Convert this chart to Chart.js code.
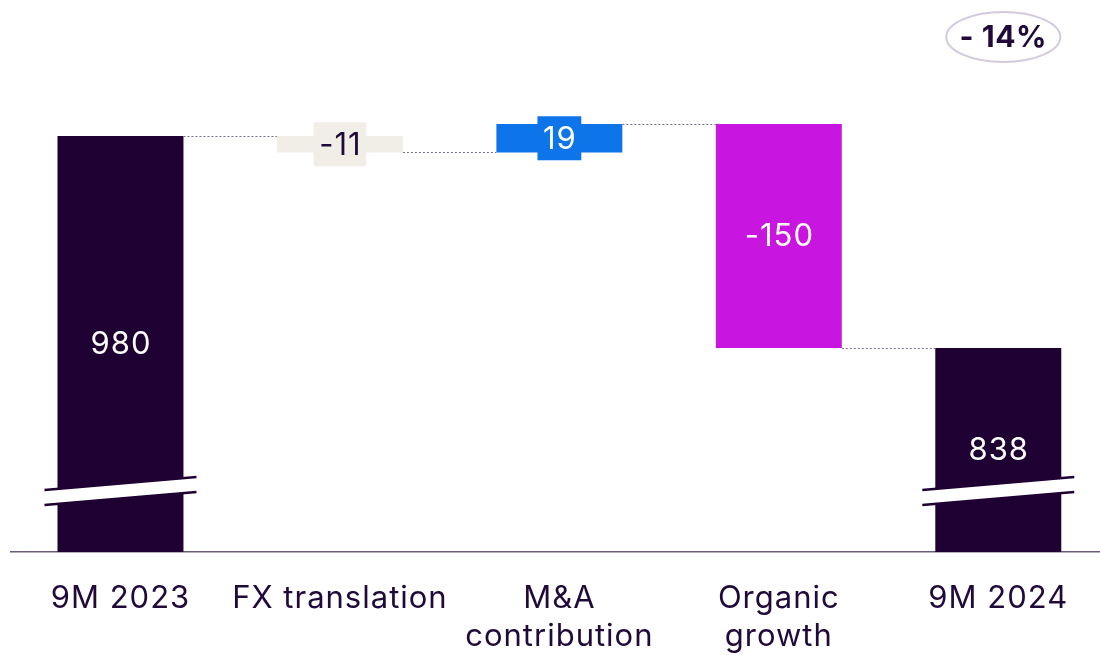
<!DOCTYPE html>
<html>
<head>
<meta charset="utf-8">
<script src="https://cdn.jsdelivr.net/npm/chart.js@4.4.1/dist/chart.umd.min.js"></script>
<style>
  html, body { margin: 0; padding: 0; background: #ffffff; overflow: hidden; }
  #wrap { width: 1108px; height: 655px; }
</style>
</head>
<body>
<div id="wrap"><canvas id="c" width="1108" height="655"></canvas></div>
<script>
// ---- data ----
const categories = [['9M 2023'], ['FX translation'], ['M&A', 'contribution'], ['Organic', 'growth'], ['9M 2024']];
const values = [980, -11, 19, -150, 838];
const isTotal = [true, false, false, false, true];
const barColors = ['#1f0033', '#f1ede7', '#0e74ea', '#c816e0', '#1f0033'];
const labelColors = ['#ffffff', '#1f0a3a', '#ffffff', '#ffffff', '#ffffff'];
const badgeText = '- 14%';
const axisMin = 701.4;
const axisMax = 1071.1;

// floating ranges built from the values
const ranges = [];
const levels = [];
let running = 0;
values.forEach((v, i) => {
  if (isTotal[i]) { ranges.push([axisMin, v]); running = v; }
  else { ranges.push([running, running + v]); running += v; }
  levels.push(running);
});

const FONT = 'Inter, "Noto Sans", sans-serif';

const spacing = {
  id: 'spacing',
  beforeLayout(chart) { chart.ctx.letterSpacing = '1px'; },
  beforeDraw(chart) { chart.ctx.letterSpacing = '1px'; }
};

const overlay = {
  id: 'overlay',
  afterDatasetsDraw(chart) {
    const ctx = chart.ctx;
    const els = chart.getDatasetMeta(0).data;
    const ys = chart.scales.y;
    const area = chart.chartArea;

    // connectors
    ctx.save();
    ctx.setLineDash([2, 2]);
    ctx.strokeStyle = '#7a6c8a';
    ctx.lineWidth = 1;
    for (let i = 0; i < els.length - 1; i++) {
      const y = Math.round(ys.getPixelForValue(levels[i])) + 0.5;
      const x1 = els[i].x + els[i].width / 2;
      const x2 = els[i + 1].x - els[i + 1].width / 2;
      ctx.beginPath(); ctx.moveTo(x1, y); ctx.lineTo(x2, y); ctx.stroke();
    }
    ctx.restore();

    // axis break marks on total bars
    els.forEach((el, i) => {
      if (!isTotal[i]) return;
      const yc = area.bottom - 61;
      const ext = el.width / 2 + 13;
      const rise = 6.5;
      const gap = 7.5;
      ctx.save();
      ctx.fillStyle = '#ffffff';
      ctx.beginPath();
      ctx.moveTo(el.x - ext, yc - gap + rise);
      ctx.lineTo(el.x + ext, yc - gap - rise);
      ctx.lineTo(el.x + ext, yc + gap - rise);
      ctx.lineTo(el.x - ext, yc + gap + rise);
      ctx.closePath();
      ctx.fill();
      ctx.strokeStyle = '#1f0033';
      ctx.lineWidth = 2.5;
      ctx.beginPath();
      ctx.moveTo(el.x - ext, yc - gap + rise); ctx.lineTo(el.x + ext, yc - gap - rise);
      ctx.moveTo(el.x - ext, yc + gap + rise); ctx.lineTo(el.x + ext, yc + gap - rise);
      ctx.stroke();
      ctx.restore();
    });

    // value labels
    ctx.save();
    ctx.letterSpacing = '1px';
    ctx.font = '31px ' + FONT;
    ctx.textAlign = 'center';
    ctx.textBaseline = 'middle';
    els.forEach((el, i) => {
      const txt = String(values[i]);
      const top = Math.min(el.y, el.base), bot = Math.max(el.y, el.base);
      const cy = (top + bot) / 2;
      if (bot - top < 40) {
        const w = ctx.measureText(txt).width + 10;
        ctx.fillStyle = barColors[i];
        ctx.fillRect(el.x - w / 2, cy - 22, w, 44);
      }
      ctx.fillStyle = labelColors[i];
      ctx.fillText(txt, el.x + 0.5, cy + 1);
    });
    ctx.restore();

    // badge
    const last = els[els.length - 1];
    const bx = last.x + 5, by = 37;
    ctx.save();
    ctx.strokeStyle = '#d3cbdd';
    ctx.lineWidth = 2;
    ctx.beginPath();
    ctx.ellipse(bx, by, 57, 25, 0, 0, Math.PI * 2);
    ctx.stroke();
    ctx.fillStyle = '#1f0a3a';
    ctx.letterSpacing = '0.5px';
    ctx.font = 'bold 30px ' + FONT;
    ctx.textAlign = 'center';
    ctx.textBaseline = 'middle';
    ctx.fillText(badgeText, bx, by + 1);
    ctx.restore();
  }
};

new Chart(document.getElementById('c'), {
  type: 'bar',
  data: {
    labels: categories,
    datasets: [{
      data: ranges,
      backgroundColor: barColors,
      borderWidth: 0,
      borderSkipped: false,
      categoryPercentage: 1,
      barPercentage: 0.574
    }]
  },
  options: {
    responsive: false,
    animation: false,
    events: [],
    layout: { padding: { left: 10.75, right: 0, top: 0, bottom: 0 } },
    plugins: { legend: { display: false }, tooltip: { enabled: false } },
    scales: {
      x: {
        grid: { display: false, drawTicks: false },
        border: { display: true, color: '#6b5b7b', width: 1.5 },
        ticks: {
          color: '#1f0a3a',
          font: { family: FONT, size: 31, lineHeight: 1.2 },
          padding: 28.5,
          maxRotation: 0,
          autoSkip: false
        },
        afterFit(scale) { scale.height = 103; }
      },
      y: {
        display: false,
        min: axisMin,
        max: axisMax
      }
    }
  },
  plugins: [spacing, overlay]
});
</script>
</body>
</html>
